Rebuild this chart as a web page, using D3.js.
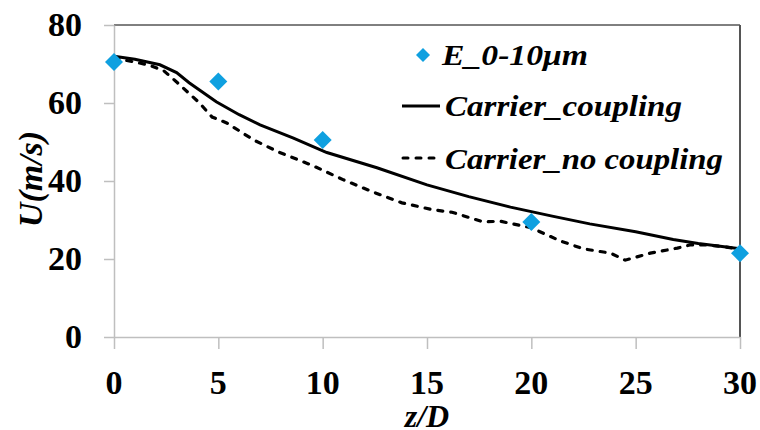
<!DOCTYPE html>
<html>
<head>
<meta charset="utf-8">
<script src="https://cdn.jsdelivr.net/npm/d3@7"></script>
</head>
<body style="margin:0">
<script>
// measured points (z/D, U)
var expZ = [0, 5, 10, 20, 30];
var expU = [70.5, 65.5, 50.5, 29.5, 21.5];

var coupZ = [0, 1, 2.2, 3, 3.6, 4.9, 6, 7, 8.6, 10.2, 12.6, 15, 17, 19, 21, 22.8, 25, 26.8, 28, 30];
var coupU = [72, 71.2, 69.8, 67.8, 65.2, 60.3, 57, 54.4, 51, 47.3, 43.4, 39, 36, 33.3, 31, 29, 27, 25, 24, 22.6];

var noCoupZ = [0, 1, 1.7, 2.4, 3, 4.1, 4.7, 5.4, 6.7, 7.9, 9.5, 11, 12.4, 13.8, 15.3, 16.2, 17.7, 18.5, 20, 21.4, 22.5, 23.8, 24.5, 25.7, 27, 27.6, 28.5, 30];
var noCoupU = [71.5, 70.5, 69.7, 68.2, 65.4, 60, 56.4, 54.9, 50.5, 47.4, 44, 40.3, 37.2, 34.4, 32.6, 32, 29.5, 29.7, 28, 24.6, 22.6, 21.5, 19.7, 21.5, 22.8, 23.6, 23.6, 22.6];

var xTicks = [0, 5, 10, 15, 20, 25, 30];
var yTicks = [0, 20, 40, 60, 80];

var legendLabels = ["E_0-10μm", "Carrier_coupling", "Carrier_no coupling"];

var serif = "'Liberation Serif', monospace";

var width = 760, height = 430;
var svg = d3.select("body").append("svg")
    .attr("width", width)
    .attr("height", height)
    .attr("font-family", serif);

var x = d3.scaleLinear().domain([0, 30]).range([114, 740]);
var y = d3.scaleLinear().domain([0, 80]).range([337, 25]);

// frame top / right
svg.append("line")
    .attr("x1", x(0)).attr("x2", x(30))
    .attr("y1", y(80)).attr("y2", y(80))
    .attr("stroke", "#000").attr("stroke-width", 1);
svg.append("line")
    .attr("x1", x(30)).attr("x2", x(30))
    .attr("y1", y(80)).attr("y2", y(0))
    .attr("stroke", "#555").attr("stroke-width", 2);

// axes (lines only, labels drawn below)
var xAxis = svg.append("g")
    .attr("transform", "translate(0," + y(0) + ")")
    .call(d3.axisBottom(x).tickValues(xTicks).tickSize(12).tickSizeOuter(0).tickFormat(""));
var yAxis = svg.append("g")
    .attr("transform", "translate(" + x(0) + ",0)")
    .call(d3.axisLeft(y).tickValues(yTicks).tickSize(10).tickSizeOuter(0).tickFormat(""));
[xAxis, yAxis].forEach(function(g) {
    g.attr("font-family", null).attr("font-size", null);
    g.selectAll("text").remove();
    g.selectAll("path, line").attr("stroke", "#bfbfbf").attr("stroke-width", 1.5);
});

svg.selectAll(".xlab")
    .data(xTicks)
    .enter().append("text")
    .attr("x", d => x(d) - 17)
    .attr("y", 394)
    .attr("font-family", serif)
    .attr("font-weight", "bold")
    .attr("font-size", 34)
    .text(d => d);

svg.selectAll(".ylab")
    .data(yTicks)
    .enter().append("text")
    .attr("x", 82)
    .attr("y", d => y(d) + 11)
    .attr("font-family", serif)
    .attr("font-weight", "bold")
    .attr("font-size", 34)
    .text(d => d);

// axis titles
var xt = svg.append("text")
    .attr("x", x(15))
    .attr("y", 427)
    .attr("font-family", serif)
    .attr("font-weight", "bold")
    .attr("font-style", "italic")
    .attr("font-size", 32)
    .text("z/D");

var yt = svg.append("text")
    .attr("transform", "translate(42,179) rotate(-90)")
    .attr("font-family", serif)
    .attr("font-weight", "bold")
    .attr("font-style", "italic")
    .attr("font-size", 34)
    .text("U(m/s)");

// center / right-align by measured width
svg.selectAll(".xlab, text").each(function() {});
svg.selectAll("text").each(function(d) {
    var t = d3.select(this);
    var w = this.getComputedTextLength();
    if (yTicks.indexOf(d) >= 0 && +t.attr("x") === 82) t.attr("x", 82 - w);
});
svg.selectAll("text").filter(function(d) { return xTicks.indexOf(d) >= 0 && +d3.select(this).attr("y") === 394; })
    .attr("x", function(d) { return x(d) - this.getComputedTextLength() / 2; });
xt.attr("x", x(15) - xt.node().getComputedTextLength() / 2);
yt.attr("transform", "translate(42," + (179 + yt.node().getComputedTextLength() / 2) + ") rotate(-90)");

// lines
var line = d3.line().x(d => x(d[0])).y(d => y(d[1]));

svg.append("path")
    .datum(d3.zip(noCoupZ, noCoupU))
    .attr("d", line)
    .attr("fill", "none")
    .attr("stroke", "#000")
    .attr("stroke-width", 3.2)
    .attr("stroke-dasharray", "5,8")
    .attr("stroke-linecap", "round");

svg.append("path")
    .datum(d3.zip(coupZ, coupU))
    .attr("d", line)
    .attr("fill", "none")
    .attr("stroke", "#000")
    .attr("stroke-width", 3);

var diamond = "M0,-9L9,0L0,9L-9,0Z";
svg.selectAll(".pt")
    .data(d3.zip(expZ, expU))
    .enter().append("path")
    .attr("d", diamond)
    .attr("transform", d => "translate(" + x(d[0]) + "," + y(d[1]) + ")")
    .attr("fill", "#0fa0e0");

// legend
var lg = svg.append("g");
lg.append("path").attr("d", "M0,-7L7,0L0,7L-7,0Z")
    .attr("transform", "translate(423,55)").attr("fill", "#0fa0e0");
lg.append("line").attr("x1", 402).attr("x2", 440).attr("y1", 106).attr("y2", 106)
    .attr("stroke", "#000").attr("stroke-width", 3);
lg.append("line").attr("x1", 403).attr("x2", 440).attr("y1", 158).attr("y2", 158)
    .attr("stroke", "#000").attr("stroke-width", 3)
    .attr("stroke-dasharray", "5,8").attr("stroke-linecap", "round");

var legendX = [442, 445, 445];
var legendY = [65, 116, 169];
var legendW = [146, 237, 278];
lg.selectAll(".lt")
    .data(legendLabels)
    .enter().append("text")
    .attr("x", (d, i) => legendX[i])
    .attr("y", (d, i) => legendY[i])
    .attr("font-family", serif)
    .attr("font-weight", "bold")
    .attr("font-style", "italic")
    .attr("font-size", 30)
    .attr("textLength", (d, i) => legendW[i])
    .attr("lengthAdjust", "spacingAndGlyphs")
    .text(d => d);
</script>
</body>
</html>
